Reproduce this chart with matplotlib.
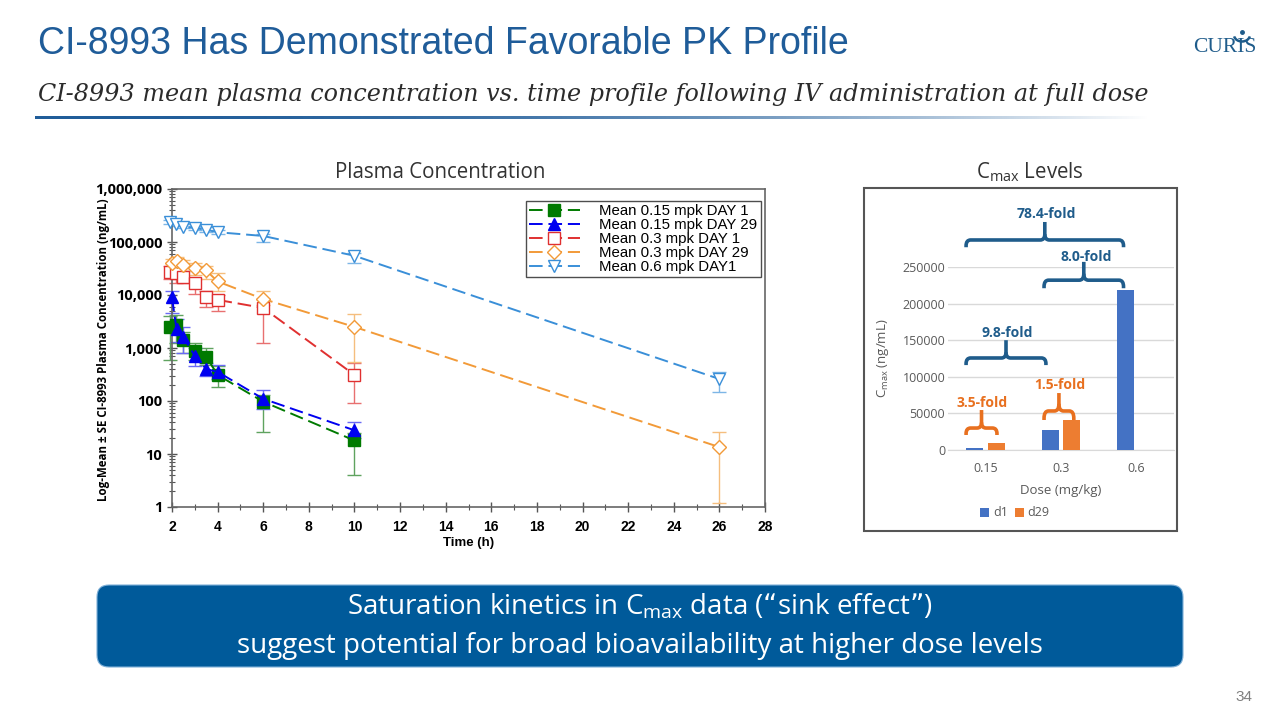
import numpy as np
import matplotlib
matplotlib.use("Agg")
import matplotlib.pyplot as plt
from matplotlib.patches import FancyBboxPatch, Rectangle, Arc
from matplotlib.path import Path
from matplotlib.patches import PathPatch
from matplotlib.ticker import FuncFormatter, LogLocator, MultipleLocator

# ---- data: plasma concentration (ng/mL) vs time (h)
t_d1 = [1.9, 2.17, 2.5, 3, 3.5, 4, 6, 10]
t_d29 = [2.0, 2.2, 2.5, 3, 3.5, 4, 6, 10]
t_d1_long = [1.9, 2.17, 2.5, 3, 3.5, 4, 6, 10, 26]
t_d29_long = [2.0, 2.2, 2.5, 3, 3.5, 4, 6, 10, 26]

m015_d1 = [2500, 2700, 1400, 890, 690, 310, 97, 18]
m015_d1_lo = [600, 1250, 800, 600, 480, 180, 26, 4]
m015_d1_hi = [4000, 4200, 2000, 1250, 1000, 450, 130, 25]

m015_d29 = [9000, 2250, 1600, 710, 400, 355, 110, 28]
m015_d29_lo = [4600, 1300, 800, 460, 290, 260, 70, 20]
m015_d29_hi = [12000, 3500, 2500, 1000, 520, 480, 160, 40]

m03_d1 = [27500, 25500, 22000, 16700, 9100, 8100, 5700, 310]
m03_d1_lo = [20000, 17000, 17000, 10500, 6000, 5000, 1250, 93]
m03_d1_hi = [36000, 33000, 28000, 20000, 12000, 10000, 8500, 520]

m03_d29 = [40000, 44000, 37000, 33000, 29000, 18000, 8400, 2500, 13.5]
m03_d29_lo = [30000, 35000, 28000, 24000, 20000, 12000, 6500, 550, 1.2]
m03_d29_hi = [48000, 52000, 45000, 40000, 36000, 26000, 12000, 4400, 26]

m06_d1 = [240000, 218000, 195000, 183000, 170000, 153000, 130000, 55000, 260]
m06_d1_lo = [220000, 200000, 180000, 165000, 155000, 140000, 100000, 40000, 148]
m06_d1_hi = [255000, 235000, 215000, 200000, 190000, 170000, 140000, 63000, 350]

# ---- data: Cmax by dose
doses = ["0.15", "0.3", "0.6"]
cmax_d1 = [2780, 27200, 218000]
cmax_d29 = [9730, 40800, np.nan]
fold_labels = ["78.4-fold", "8.0-fold", "9.8-fold", "3.5-fold", "1.5-fold"]

W, H = 1280, 720
BLUE = "#1F5C99"
CALIBRI = "Open Sans"


def rect(x0, y0, x1, y1):
    return [x0 / W, 1 - y1 / H, (x1 - x0) / W, (y1 - y0) / H]


fig = plt.figure(figsize=(12.8, 7.2), dpi=100)
fig.patch.set_facecolor("white")

# overlay in pixel coords for slide elements
ov = fig.add_axes([0, 0, 1, 1])
ov.set_axis_off()
ov.patch.set_visible(False)

ov.text(38, 44, "CI-8993 Has Demonstrated Favorable PK Profile", fontsize=27,
        color=BLUE, family="Liberation Sans", va="center", ha="left")
ov.text(38, 94, "CI-8993 mean plasma concentration vs. time profile following IV administration at full dose",
        fontsize=17.2, color="#2B2B2B", family="DejaVu Serif", style="italic", va="center", ha="left")

# fading rule under subtitle
grad = np.zeros((1, 400, 4))
tt = np.linspace(0, 1, 400)
grad[0, :, 0] = 31 / 255
grad[0, :, 1] = 92 / 255
grad[0, :, 2] = 153 / 255
grad[0, :, 3] = np.clip(1 - tt ** 2.2, 0, 1)
ov.imshow(grad, extent=[35, 1150, 119.5, 116.5], aspect="auto", interpolation="bilinear")

# logo
ov.text(1225, 52, "CURIS", fontsize=15.5, color="#1F5C8B", family="Liberation Serif",
        ha="center", va="baseline")
ov.add_patch(Arc((1242, 35), 16, 13, theta1=10, theta2=170, color="#1F5C8B", lw=1.8))
ov.plot([1242], [32], "o", color="#1F5C8B", ms=2.5)

# panel titles
ov.text(440, 172, "Plasma Concentration", fontsize=14.8, family=CALIBRI, color="#333333",
        ha="center", va="center")
ov.text(1030, 172, r"C$\mathregular{_{max}}$ Levels", fontsize=14.8, family=CALIBRI,
        color="#333333", ha="center", va="center")

ov.text(104, 350, "Log-Mean ± SE CI-8993 Plasma Concentration (ng/mL)", rotation=90,
        fontsize=8.3, fontweight="bold", family=CALIBRI, ha="center", va="center")

# box around Cmax chart
ov.add_patch(Rectangle((864, 188), 313, 343, fill=False, ec="#555555", lw=1.5))

# bottom call-out
ov.add_patch(FancyBboxPatch((97, 585), 1086, 82, boxstyle="round,pad=0,rounding_size=12",
                            fc="#005A9A", ec="#7FB0D8", lw=0.8))
ov.text(640, 607, r"Saturation kinetics in C$\mathregular{_{max}}$ data (“sink effect”)",
        fontsize=20, family=CALIBRI, color="white", ha="center", va="center")
ov.text(640, 646, "suggest potential for broad bioavailability at higher dose levels",
        fontsize=20, family=CALIBRI, color="white", ha="center", va="center")

ov.text(1252, 697, "34", fontsize=11, color="#7F7F7F", family="Liberation Sans",
        ha="right", va="center")

ov.set_xlim(0, W)
ov.set_ylim(H, 0)

# ---- left: PK profile
ax = fig.add_axes(rect(172, 189, 765, 507))
series = [
    (t_d1, m015_d1, m015_d1_lo, m015_d1_hi, "Mean 0.15 mpk DAY 1", "s", "#007A00", "#007A00", "#5FA35F"),
    (t_d29, m015_d29, m015_d29_lo, m015_d29_hi, "Mean 0.15 mpk DAY 29", "^", "#0000F0", "#0000F0", "#6A6AF5"),
    (t_d1, m03_d1, m03_d1_lo, m03_d1_hi, "Mean 0.3 mpk DAY 1", "s", "#E03030", "none", "#E87070"),
    (t_d29_long, m03_d29, m03_d29_lo, m03_d29_hi, "Mean 0.3 mpk DAY 29", "D", "#F29A38", "none", "#F5BE7E"),
    (t_d1_long, m06_d1, m06_d1_lo, m06_d1_hi, "Mean 0.6 mpk DAY1", "v", "#3A8FD8", "none", "#7DB6E6"),
]
for t, m, lo, hi, lab, mk, col, fc, ecol in series:
    m = np.array(m, dtype=float)
    yerr = [m - np.array(lo), np.array(hi) - m]
    ax.errorbar(t, m, yerr=yerr, fmt="none", ecolor=ecol, elinewidth=1.0, capsize=5,
                capthick=1.0, clip_on=False, zorder=2)
    ms = 7 if mk == "D" else 9
    ax.plot(t, m, color=col, lw=1.4, dashes=(7, 3), marker=mk, ms=ms, mfc=fc if fc != "none" else "white",
            mec=col, mew=1.0, label=lab, clip_on=False, zorder=3)

ax.set_yscale("log")
ax.set_ylim(1, 1e6)
ax.set_xlim(2, 28)
ax.xaxis.set_major_locator(MultipleLocator(2))
ax.xaxis.set_minor_locator(MultipleLocator(1))
ax.yaxis.set_major_locator(LogLocator(base=10, numticks=10))
ax.yaxis.set_minor_locator(LogLocator(base=10, subs=np.arange(2, 10), numticks=100))
ax.yaxis.set_major_formatter(FuncFormatter(lambda v, p: f"{int(round(v)):,}"))
ax.tick_params(which="both", direction="inout", color="#555555")
ax.tick_params(which="major", length=7, width=1)
ax.tick_params(which="minor", length=4, width=0.8)
ax.tick_params(axis="x", pad=6)
for lbl in ax.get_xticklabels():
    lbl.set_fontweight("bold")
    lbl.set_fontsize(10)
    lbl.set_family("Liberation Sans")
for lbl in ax.get_yticklabels():
    lbl.set_fontweight("bold")
    lbl.set_fontsize(10.5)
    lbl.set_family(CALIBRI)
ax.set_xlabel("Time (h)", fontsize=9.5, fontweight="bold", family="Liberation Sans", labelpad=2)
for sp in ax.spines.values():
    sp.set_color("#666666")
    sp.set_linewidth(1.2)
leg = ax.legend(loc="upper right", bbox_to_anchor=(1.0, 0.977), fancybox=False, edgecolor="#222222",
                prop={"family": "Liberation Sans", "size": 10.8}, handlelength=3.4,
                borderpad=0.2, labelspacing=0.0, handletextpad=1.3, borderaxespad=0.3)
leg.get_frame().set_linewidth(1.0)

# ---- right: Cmax bars
bx = fig.add_axes(rect(948, 267, 1174, 450))
xpos = np.arange(len(doses))
bw = 0.225
off = 0.143
bx.bar(xpos - off, cmax_d1, width=bw, color="#4472C4", label="d1", zorder=3)
bx.bar(xpos + off, cmax_d29, width=bw, color="#ED7D31", label="d29", zorder=3)
bx.set_xlim(-0.5, 2.5)
bx.set_ylim(0, 250000)
bx.set_yticks(np.arange(0, 250001, 50000))
bx.yaxis.grid(True, color="#D9D9D9", lw=1)
bx.set_axisbelow(True)
for sp in ["top", "right", "left"]:
    bx.spines[sp].set_visible(False)
bx.spines["bottom"].set_color("#D9D9D9")
bx.set_xticks(xpos)
bx.set_xticklabels(doses)
bx.tick_params(length=0, labelsize=9, labelcolor="#595959")
bx.tick_params(axis="x", pad=9)
bx.tick_params(axis="y", pad=2)
for lbl in bx.get_xticklabels() + bx.get_yticklabels():
    lbl.set_family(CALIBRI)
bx.set_xlabel("Dose (mg/kg)", fontsize=9.5, color="#595959", family=CALIBRI, labelpad=6)
bx.set_ylabel(r"C$\mathregular{_{max}}$ (ng/mL)", fontsize=9.5, color="#595959", family=CALIBRI, labelpad=8)
bx.legend(loc="center", bbox_to_anchor=(1015 / W, 1 - 513 / H), bbox_transform=fig.transFigure,
          ncol=2, frameon=False, prop={"family": CALIBRI, "size": 9}, handlelength=0.7,
          handleheight=0.7, columnspacing=0.6, handletextpad=0.3, labelcolor="#595959")

# fold-change braces (x in category units, y in data units)
braces = [
    (-0.26, 1.83, 286900, 277000, 311500, 0.80, 322000, "#1F5C8B"),
    (0.775, 1.83, 232000, 221000, 257000, 1.33, 263600, "#1F5C8B"),
    (-0.26, 0.80, 125700, 116000, 150000, 0.285, 160000, "#1F5C8B"),
    (-0.26, 0.15, 30000, 20500, 54600, -0.05, 64000, "#E8701F"),
    (0.775, 1.17, 53300, 41000, 77800, 0.99, 88800, "#E8701F"),
]
for (x0, x1, yh, ye, yt, lx, ly, col), lab in zip(braces, fold_labels):
    xm = (x0 + x1) / 2
    rx = 0.06
    ry = (yh - ye) * 0.8
    verts = [(x0, ye), (x0, yh - ry), (x0, yh), (x0 + rx, yh),
             (xm - rx, yh), (xm, yh), (xm, yh + ry), (xm, yt)]
    codes = [Path.MOVETO, Path.LINETO, Path.CURVE3, Path.CURVE3,
             Path.LINETO, Path.CURVE3, Path.CURVE3, Path.LINETO]
    bx.add_patch(PathPatch(Path(verts, codes), fill=False, ec=col, lw=2.6, clip_on=False,
                           capstyle="butt", joinstyle="round"))
    verts2 = [(x1, ye), (x1, yh - ry), (x1, yh), (x1 - rx, yh),
              (xm + rx, yh), (xm, yh), (xm, yh + ry)]
    codes2 = [Path.MOVETO, Path.LINETO, Path.CURVE3, Path.CURVE3,
              Path.LINETO, Path.CURVE3, Path.CURVE3]
    bx.add_patch(PathPatch(Path(verts2, codes2), fill=False, ec=col, lw=2.6, clip_on=False,
                           capstyle="butt", joinstyle="round"))
    bx.text(lx, ly, lab, color=col, fontsize=10, fontweight="bold", family=CALIBRI,
            ha="center", va="center", clip_on=False)

fig.savefig("out.png", dpi=100)
